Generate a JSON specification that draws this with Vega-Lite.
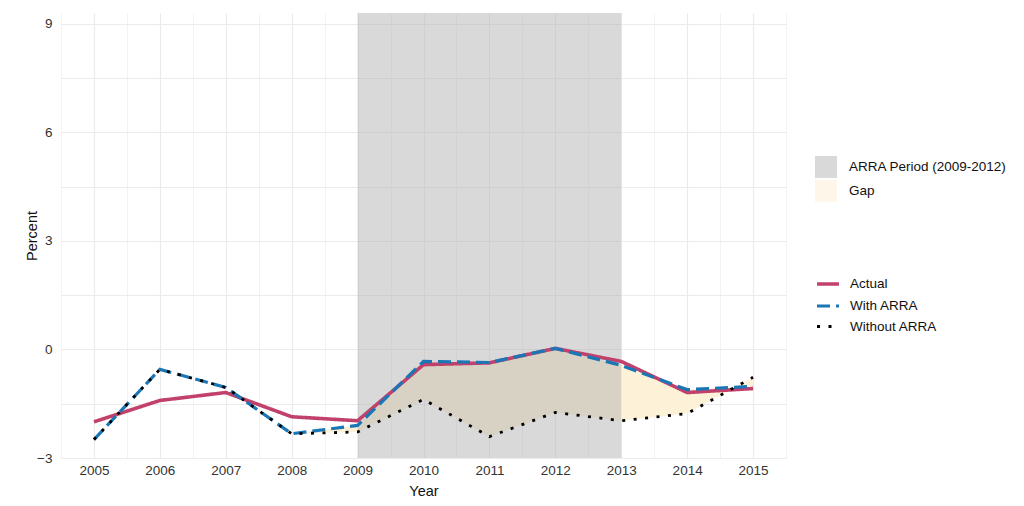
{
  "$schema": "https://vega.github.io/schema/vega-lite/v6.json",
  "width": 725,
  "height": 445,
  "autosize": {"type": "none"},
  "padding": {"left": 61, "top": 13, "right": 238, "bottom": 48},
  "background": "white",
  "datasets": {
    "rates": [
      {"Year": 2005, "Actual": -2.0, "With ARRA": -2.49, "Without ARRA": -2.49},
      {"Year": 2006, "Actual": -1.41, "With ARRA": -0.55, "Without ARRA": -0.55},
      {"Year": 2007, "Actual": -1.19, "With ARRA": -1.05, "Without ARRA": -1.05},
      {"Year": 2008, "Actual": -1.86, "With ARRA": -2.33, "Without ARRA": -2.33},
      {"Year": 2009, "Actual": -1.97, "With ARRA": -2.1, "Without ARRA": -2.28},
      {"Year": 2010, "Actual": -0.42, "With ARRA": -0.33, "Without ARRA": -1.38},
      {"Year": 2011, "Actual": -0.37, "With ARRA": -0.36, "Without ARRA": -2.41},
      {"Year": 2012, "Actual": 0.03, "With ARRA": 0.03, "Without ARRA": -1.74},
      {"Year": 2013, "Actual": -0.33, "With ARRA": -0.44, "Without ARRA": -1.97},
      {"Year": 2014, "Actual": -1.19, "With ARRA": -1.11, "Without ARRA": -1.77},
      {"Year": 2015, "Actual": -1.08, "With ARRA": -1.02, "Without ARRA": -0.77}
    ],
    "period": [
      {"start": 2009, "end": 2013, "label": "ARRA Period (2009-2012)"}
    ]
  },
  "layer": [
    {
      "data": {"name": "rates"},
      "mark": {"type": "area", "opacity": 0.9},
      "encoding": {
        "x": {
          "field": "Year",
          "type": "quantitative",
          "scale": {"domain": [2004.5, 2015.5], "nice": false, "zero": false},
          "axis": {
            "title": "Year",
            "orient": "bottom",
            "values": [2005, 2006, 2007, 2008, 2009, 2010, 2011, 2012, 2013, 2014, 2015],
            "format": "d",
            "labelOverlap": false,
            "labelPadding": 5,
            "titlePadding": 8,
            "gridWidth": 1.1
          }
        },
        "y": {
          "field": "With ARRA",
          "type": "quantitative",
          "scale": {"domain": [-3, 9.3], "nice": false, "zero": false},
          "axis": {
            "title": "Percent",
            "values": [-3, -1.5, 0, 1.5, 3, 4.5, 6, 7.5, 9],
            "labelExpr": "datum.value % 3 === 0 ? datum.label : ''",
            "labelOverlap": false,
            "labelPadding": 9,
            "titlePadding": -3,
            "gridWidth": 1
          }
        },
        "y2": {"field": "Without ARRA"},
        "fill": {
          "datum": "Gap",
          "type": "nominal",
          "title": null,
          "scale": {
            "domain": ["ARRA Period (2009-2012)", "Gap"],
            "range": ["#b3b3b3", "#fdf0d3"]
          },
          "legend": {
            "title": null,
            "orient": "none",
            "legendX": 754,
            "legendY": 143,
            "symbolType": "square",
            "symbolSize": 484,
            "symbolOpacity": 1,
            "symbolStrokeWidth": 0,
            "rowPadding": 2,
            "labelOffset": 12
          }
        }
      }
    },
    {
      "data": {"name": "period"},
      "mark": {"type": "rect", "opacity": 0.5},
      "encoding": {
        "x": {
          "field": "start",
          "type": "quantitative",
          "axis": {
            "title": null,
            "orient": "bottom",
            "values": [2004.5, 2005.5, 2006.5, 2007.5, 2008.5, 2009.5, 2010.5, 2011.5, 2012.5, 2013.5, 2014.5, 2015.5],
            "labels": false,
            "grid": true,
            "gridWidth": 0.6
          }
        },
        "x2": {"field": "end"},
        "fill": {"field": "label", "type": "nominal", "title": null}
      }
    },
    {
      "mark": {"type": "rule", "color": "#555555", "strokeWidth": 1.4},
      "encoding": {
        "y": {"datum": 0, "type": "quantitative"}
      }
    },
    {
      "data": {"name": "rates"},
      "transform": [
        {"fold": ["Actual", "With ARRA", "Without ARRA"], "as": ["Series", "Value"]}
      ],
      "mark": {"type": "line", "strokeCap": "butt"},
      "encoding": {
        "x": {"field": "Year", "type": "quantitative", "axis": null},
        "y": {"field": "Value", "type": "quantitative"},
        "stroke": {
          "field": "Series",
          "type": "nominal",
          "title": null,
          "scale": {
            "domain": ["Actual", "With ARRA", "Without ARRA"],
            "range": ["#c2416b", "#1a76b5", "#000000"]
          },
          "legend": {
            "title": null,
            "orient": "none",
            "legendX": 754,
            "legendY": 258,
            "symbolType": "stroke",
            "symbolSize": 484,
            "symbolStrokeWidth": 3,
            "rowPadding": 1,
            "labelOffset": 9
          }
        },
        "strokeDash": {
          "field": "Series",
          "type": "nominal",
          "title": null,
          "scale": {
            "domain": ["Actual", "With ARRA", "Without ARRA"],
            "range": [[1, 0], [13, 6], [3, 8.5]]
          },
          "legend": {
            "title": null,
            "orient": "none",
            "legendX": 754,
            "legendY": 258,
            "symbolType": "stroke",
            "symbolSize": 484,
            "symbolStrokeWidth": 3,
            "rowPadding": 1,
            "labelOffset": 9
          }
        },
        "strokeWidth": {
          "field": "Series",
          "type": "ordinal",
          "scale": {
            "domain": ["Actual", "With ARRA", "Without ARRA"],
            "range": [3.6, 2.8, 3]
          },
          "legend": null
        }
      }
    }
  ],
  "resolve": {"axis": {"x": "independent"}},
  "config": {
    "view": {"stroke": null},
    "font": "Liberation Sans",
    "axis": {
      "domain": false,
      "ticks": false,
      "gridColor": "#ebebeb",
      "labelFont": "Liberation Sans",
      "labelFontSize": 13.5,
      "labelColor": "#333333",
      "titleFont": "Liberation Sans",
      "titleFontSize": 14.5,
      "titleFontWeight": "normal",
      "titleColor": "#111111"
    },
    "legend": {
      "labelFont": "Liberation Sans",
      "labelFontSize": 13.5,
      "labelColor": "#111111"
    }
  }
}
